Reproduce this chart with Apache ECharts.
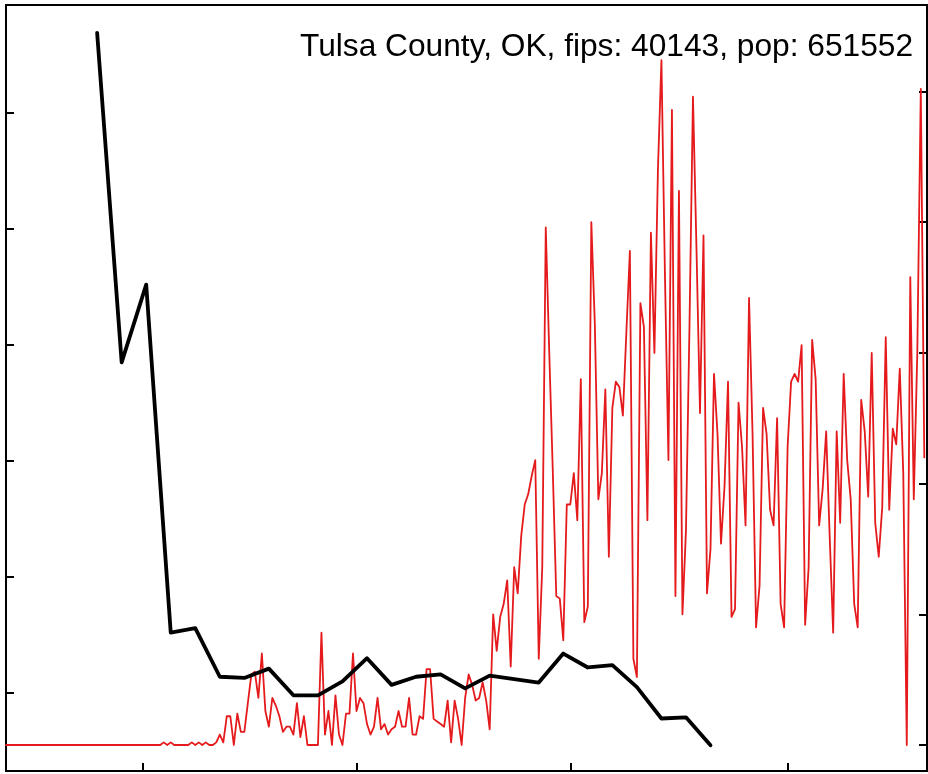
<!DOCTYPE html>
<html>
<head>
<meta charset="utf-8">
<script src="https://cdn.jsdelivr.net/npm/echarts@6/dist/echarts.min.js"></script>
<style>
html,body{margin:0;padding:0;background:#fff;}
#chart{width:928px;height:774px;}
</style>
</head>
<body>
<div id="chart"></div>
<script>
// Title
const titleText = "Tulsa County, OK, fips: 40143, pop: 651552";

// Daily new cases (right axis), one value per day starting at day index 0 (2020-01-22)
const dailyCases = [
  0,0,0,0,0,0,0,0,0,0,
  0,0,0,0,0,0,0,0,0,0,
  0,0,0,0,0,0,0,0,0,0,
  0,0,0,0,0,0,0,0,0,0,
  0,0,0,0,0,1,0,1,0,0,
  0,0,0,1,0,1,0,1,0,0,
  1,4,1,11,11,0,12,5,5,16,
  27,28,18,35,13,7,18,15,11,5,
  7,7,4,16,3,11,0,0,0,0,
  43,4,13,0,19,4,0,12,12,35,
  13,18,16,8,4,7,18,6,8,4,
  6,7,13,7,7,18,4,4,11,10,
  29,29,10,9,8,7,17,1,17,10,
  0,18,27,23,17,18,24,17,6,50,
  36,49,54,63,30,68,58,80,92,96,
  103,109,33,68,198,150,105,57,56,40,
  92,92,104,86,140,47,53,200,161,94,
  104,136,72,129,139,137,126,158,189,33,
  26,169,160,86,196,150,220,262,180,109,
  243,57,212,50,82,160,248,190,127,195,
  58,75,142,119,77,99,139,49,52,131,
  114,84,171,119,45,61,129,119,90,84,
  125,54,45,114,139,142,139,153,46,68,
  155,140,84,98,120,80,43,120,85,142,
  109,94,54,45,132,120,95,150,85,72,
  91,156,90,121,115,144,104,0,179,94,
  150,251,110
];

// Weekly series (left axis)
const weeklyStartDay = 26;
const weeklyStep = 7;
const weeklyValues = [
  6.69, 3.85, 4.52, 1.52, 1.56, 1.14, 1.13, 1.21, 0.98, 0.98,
  1.10, 1.30, 1.07, 1.14, 1.16, 1.04, 1.15, 1.12, 1.09, 1.34,
  1.22, 1.24, 1.05, 0.78, 0.79, 0.55
];

// Tick positions
const xTickDays = [39, 100, 161, 223];      // Mar 1, May 1, Jul 1, Sep 1
const leftTicks = [1, 2, 3, 4, 5, 6];
const rightTicks = [0, 50, 100, 150, 200, 250];

const dailyData = dailyCases.map((v, i) => [i, v]);
const weeklyData = weeklyValues.map((v, k) => [weeklyStartDay + k * weeklyStep, v]);

const chart = echarts.init(document.getElementById('chart'), null, {renderer: 'canvas'});
const tickStyle = {show: true, inside: true, length: 8, lineStyle: {color: '#000', width: 2}};
chart.setOption({
  animation: false,
  backgroundColor: '#fff',
  title: {
    text: titleText,
    right: 15, top: 31, padding: 0,
    textStyle: {fontFamily: 'Liberation Sans', fontSize: 31.7, fontWeight: 'normal', color: '#000'}
  },
  grid: {left: 6, right: 1, top: 5, bottom: 3, show: true, borderColor: '#000', borderWidth: 2, backgroundColor: 'transparent'},
  xAxis: {
    type: 'value', min: 0, max: 262.77, position: 'bottom',
    axisLine: {show: false, onZero: false},
    axisTick: Object.assign({customValues: xTickDays}, tickStyle),
    axisLabel: {show: false},
    splitLine: {show: false}
  },
  yAxis: [
    {
      type: 'value', position: 'left', min: 0.3276, max: 6.931,
      axisLine: {show: false, onZero: false},
      axisTick: Object.assign({customValues: leftTicks}, tickStyle),
      axisLabel: {show: false},
      splitLine: {show: false}
    },
    {
      type: 'value', position: 'right', min: -9.95, max: 283.1,
      axisLine: {show: false, onZero: false},
      axisTick: Object.assign({customValues: rightTicks}, tickStyle),
      axisLabel: {show: false},
      splitLine: {show: false}
    }
  ],
  series: [
    {
      type: 'line', yAxisIndex: 1, data: dailyData, showSymbol: false, symbol: 'none',
      lineStyle: {color: '#e41a1c', width: 1.8, cap: 'round', join: 'round'},
      silent: true, z: 2
    },
    {
      type: 'line', yAxisIndex: 0, data: weeklyData, showSymbol: false, symbol: 'none',
      lineStyle: {color: '#000', width: 3.8, cap: 'round', join: 'round'},
      silent: true, z: 3
    }
  ]
});
</script>
</body>
</html>
